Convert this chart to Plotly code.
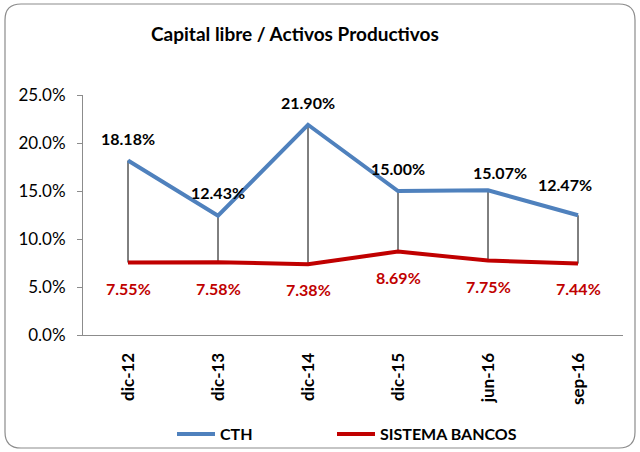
import plotly.graph_objects as go

categories = ["dic-12", "dic-13", "dic-14", "dic-15", "jun-16", "sep-16"]
cth = [0.1818, 0.1243, 0.2190, 0.1500, 0.1507, 0.1247]
sistema = [0.0755, 0.0758, 0.0738, 0.0869, 0.0775, 0.0744]
y_ticks = [0, 0.05, 0.10, 0.15, 0.20, 0.25]

# label offsets (styling, pixels)
cth_xshift = [0, 0, 0, 0, 12, -13]
cth_yshift = [22, 23, 22, 23, 18, 31]
sis_yshift = [-26, -26, -25, -26, -26, -25]

FONT = "Lato"
BLUE = "#4F81BD"
RED = "#C00000"

W, H = 640, 452          # visible window
FIG_H = 480              # figure a bit taller so the legend never pushes margins
PLOT_LEFT, PLOT_RIGHT, PLOT_TOP, PLOT_BOTTOM = 83, 623, 95, 335
L, R, T, B = PLOT_LEFT, W - PLOT_RIGHT, PLOT_TOP, FIG_H - PLOT_BOTTOM
pw, ph = PLOT_RIGHT - PLOT_LEFT, PLOT_BOTTOM - PLOT_TOP

def px(x):
    return (x - PLOT_LEFT) / pw

def py(y):
    return (PLOT_BOTTOM - y) / ph

fig = go.Figure()

# drop lines
dx, dy = [], []
for c, a, b in zip(categories, cth, sistema):
    dx += [c, c, None]
    dy += [a, b, None]
fig.add_trace(go.Scatter(x=dx, y=dy, mode="lines", line=dict(color="black", width=1),
                         showlegend=False, hoverinfo="skip"))

fig.add_trace(go.Scatter(x=categories, y=cth, mode="lines", name="CTH",
                         line=dict(color=BLUE, width=4), legend="legend"))
fig.add_trace(go.Scatter(x=categories, y=sistema, mode="lines", name="SISTEMA BANCOS",
                         line=dict(color=RED, width=4), legend="legend2"))

annotations = []
for c, v, xs, ys in zip(categories, cth, cth_xshift, cth_yshift):
    annotations.append(dict(x=c, y=v, text=f"{v*100:.2f}%", showarrow=False,
                            xshift=xs, yshift=ys,
                            font=dict(family=FONT, size=16, color="black", weight="bold")))
for c, v, ys in zip(categories, sistema, sis_yshift):
    annotations.append(dict(x=c, y=v, text=f"{v*100:.2f}%", showarrow=False,
                            yshift=ys,
                            font=dict(family=FONT, size=16, color=RED, weight="bold")))

annotations.append(dict(xref="paper", yref="paper", x=px(295), y=py(33),
                        xanchor="center", yanchor="middle",
                        text="Capital libre / Activos Productivos", showarrow=False,
                        font=dict(family=FONT, size=19, color="black", weight="bold")))

# rounded outer border
x0, x1, y0, y1, r = px(5), px(635), py(448), py(4), 16
rx, ry = r / pw, r / ph
path = (f"M {x0+rx},{y1} L {x1-rx},{y1} Q {x1},{y1} {x1},{y1-ry} "
        f"L {x1},{y0+ry} Q {x1},{y0} {x1-rx},{y0} L {x0+rx},{y0} "
        f"Q {x0},{y0} {x0},{y0+ry} L {x0},{y1-ry} Q {x0},{y1} {x0+rx},{y1} Z")

legend_font = dict(family=FONT, size=16, color="black", weight="bold")

fig.update_layout(
    width=W, height=FIG_H,
    margin=dict(l=L, r=R, t=T, b=B),
    paper_bgcolor="white", plot_bgcolor="white",
    font=dict(family=FONT, color="black"),
    annotations=annotations,
    shapes=[dict(type="path", xref="paper", yref="paper", path=path,
                 line=dict(color="#8C8C8C", width=1.2), layer="below")],
    showlegend=True,
    legend=dict(orientation="h", x=px(172), y=py(434), xanchor="left", yanchor="middle",
                font=legend_font, itemwidth=38, bgcolor="rgba(0,0,0,0)"),
    legend2=dict(orientation="h", x=px(332), y=py(434), xanchor="left", yanchor="middle",
                 font=legend_font, itemwidth=38, bgcolor="rgba(0,0,0,0)"),
    xaxis=dict(showgrid=False, showline=True, linecolor="#8C8C8C", linewidth=1,
               ticks="", tickangle=-90, ticklabelstandoff=10,
               tickfont=dict(family=FONT, size=17, color="black", weight="bold"),
               range=[-0.5, len(categories) - 0.5], fixedrange=True),
    yaxis=dict(range=[0, 0.25], tickvals=y_ticks, tickformat=".1%",
               showgrid=False, showline=True, linecolor="#8C8C8C", linewidth=1,
               ticks="outside", ticklen=5, tickcolor="#8C8C8C", ticklabelstandoff=8,
               tickfont=dict(family=FONT, size=17, color="black"), zeroline=False),
)

fig.write_html("out.html", config={"displayModeBar": False},
               post_script="document.body.style.margin='0';document.body.style.overflow='hidden';")
